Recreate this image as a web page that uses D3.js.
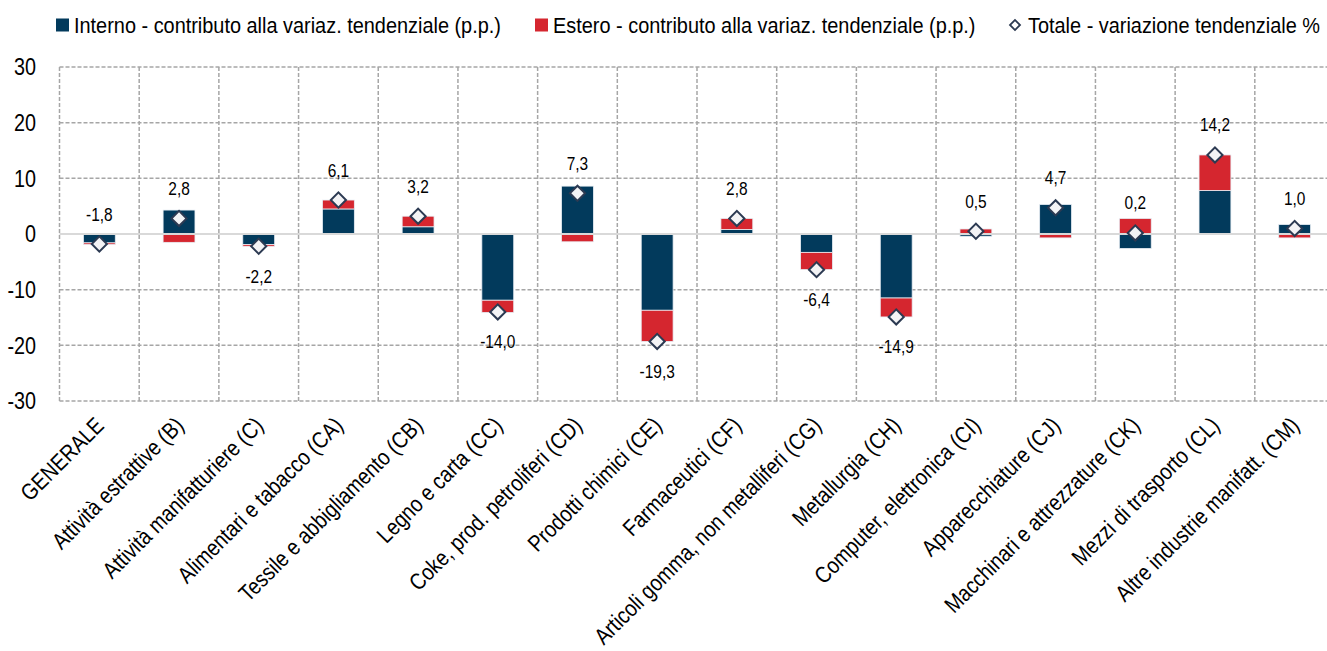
<!DOCTYPE html>
<html>
<head>
<meta charset="utf-8">
<script src="https://cdn.jsdelivr.net/npm/d3@7"></script>
<style>
  body { margin: 0; background: #fff; }
  text { font-family: "Liberation Sans Narrow", "Arial Narrow", "Liberation Sans", Arial, sans-serif; }
</style>
</head>
<body>
<script>
var categories = ["GENERALE", "Attività estrattive (B)", "Attività manifatturiere (C)",
    "Alimentari e tabacco (CA)", "Tessile e abbigliamento (CB)", "Legno e carta (CC)",
    "Coke, prod. petroliferi (CD)", "Prodotti chimici (CE)", "Farmaceutici (CF)",
    "Articoli gomma, non metalliferi (CG)", "Metallurgia (CH)", "Computer, elettronica (CI)",
    "Apparecchiature (CJ)", "Macchinari e attrezzature (CK)", "Mezzi di trasporto (CL)",
    "Altre industrie manifatt. (CM)"];
var interno = [-1.6, 4.3, -1.9, 4.5, 1.3, -11.9, 8.6, -13.7, 0.8, -3.3, -11.5, -0.4, 5.3, -2.6, 7.8, 1.7];
var estero  = [-0.3, -1.5, -0.3, 1.6, 1.9, -2.2, -1.4, -5.6, 2.0, -3.1, -3.4, 0.9, -0.7, 2.8, 6.4, -0.7];
var totale  = [-1.8, 2.8, -2.2, 6.1, 3.2, -14.0, 7.3, -19.3, 2.8, -6.4, -14.9, 0.5, 4.7, 0.2, 14.2, 1.0];
var labelAbove = [true, true, false, true, true, false, true, false, true, false, false, true, true, true, true, true];
var yTicks = [-30, -20, -10, 0, 10, 20, 30];
var legendLabels = ["Interno - contributo alla variaz. tendenziale (p.p.)",
    "Estero - contributo alla variaz. tendenziale (p.p.)",
    "Totale - variazione tendenziale %"];

var width = 1327, height = 651;
var navy = "#023a5c", red = "#d5262f";
var narrow = 0.86; // no narrow font installed, squeeze the regular one

var svg = d3.select("body").append("svg")
    .attr("width", width)
    .attr("height", height);

var x = d3.scaleBand()
    .domain(categories)
    .range([59.5, 1334.5]);

var y = d3.scaleLinear()
    .domain([-30, 30])
    .range([401, 67]);

// grid
var grid = svg.append("g");
grid.selectAll(".hgrid")
    .data(yTicks.filter(function(d) { return d !== 0; }))
    .enter().append("line")
    .attr("x1", x.range()[0]).attr("x2", x.range()[1])
    .attr("y1", function(d) { return y(d); })
    .attr("y2", function(d) { return y(d); })
    .attr("stroke", "#a6a6a6")
    .attr("stroke-width", 1.5)
    .attr("stroke-dasharray", "4,2");

grid.selectAll(".vgrid")
    .data(categories)
    .enter().append("line")
    .attr("x1", function(d) { return x(d); })
    .attr("x2", function(d) { return x(d); })
    .attr("y1", y(30)).attr("y2", y(-30))
    .attr("stroke", "#a6a6a6")
    .attr("stroke-width", 1.5)
    .attr("stroke-dasharray", "4,2");

// y tick labels
svg.append("g").selectAll("text")
    .data(yTicks)
    .enter().append("text")
    .attr("transform", function(d) { return "translate(36," + y(d) + ") scale(" + narrow + ",1)"; })
    .attr("dy", "0.36em")
    .attr("text-anchor", "end")
    .attr("font-size", 23)
    .attr("fill", "#000")
    .text(function(d) { return d; });

// stacked bars (diverging)
var barW = x.bandwidth() * 0.4;
var segs = [];
categories.forEach(function(c, i) {
    var pos = 0, neg = 0;
    [[interno[i], navy], [estero[i], red]].forEach(function(s) {
        var v = s[0], y0, y1;
        if (v >= 0) { y0 = pos; y1 = pos + v; pos = y1; }
        else { y0 = neg; y1 = neg + v; neg = y1; }
        segs.push({cat: c, y0: y0, y1: y1, color: s[1]});
    });
});

svg.append("g").selectAll("rect")
    .data(segs)
    .enter().append("rect")
    .attr("x", function(d) { return x(d.cat) + (x.bandwidth() - barW) / 2; })
    .attr("width", barW)
    .attr("y", function(d) { return y(Math.max(d.y0, d.y1)); })
    .attr("height", function(d) { return Math.abs(y(d.y0) - y(d.y1)); })
    .attr("fill", function(d) { return d.color; })
    .attr("stroke", "#e8eef4")
    .attr("stroke-width", 0.8);

// zero line
svg.append("line")
    .attr("x1", x.range()[0]).attr("x2", x.range()[1])
    .attr("y1", y(0)).attr("y2", y(0))
    .attr("stroke", "#d9d9d9")
    .attr("stroke-width", 2);

// diamonds
var diamond = d3.symbol().type(d3.symbolSquare).size(115);
svg.append("g").selectAll("path")
    .data(totale)
    .enter().append("path")
    .attr("d", diamond)
    .attr("transform", function(d, i) {
        return "translate(" + (x(categories[i]) + x.bandwidth() / 2) + "," + y(d) + ") rotate(45)";
    })
    .attr("fill", "#f3f3f5")
    .attr("stroke", "#2c3a52")
    .attr("stroke-width", 2);

// value labels
svg.append("g").selectAll("text")
    .data(totale)
    .enter().append("text")
    .attr("transform", function(d, i) {
        var ty = y(d) + (labelAbove[i] ? -30 : 30);
        return "translate(" + (x(categories[i]) + x.bandwidth() / 2) + "," + ty + ") scale(" + narrow + ",1)";
    })
    .attr("dy", "0.36em")
    .attr("text-anchor", "middle")
    .attr("font-size", 18)
    .attr("fill", "#000")
    .text(function(d) { return d3.format(".1f")(d).replace(".", ",").replace("−", "-"); });

// x labels
svg.append("g").selectAll("text")
    .data(categories)
    .enter().append("text")
    .attr("transform", function(d) {
        return "translate(" + (x(d) + x.bandwidth() / 2 + 6) + ",427) rotate(-45) scale(0.85,1)";
    })
    .attr("text-anchor", "end")
    .attr("font-size", 23)
    .attr("fill", "#000")
    .text(function(d) { return d; });

// legend
var legend = svg.append("g");
var legendX = [56, 535, 1008];
legendLabels.forEach(function(l, i) {
    var g = legend.append("g").attr("transform", "translate(" + legendX[i] + ",25)");
    if (i < 2) {
        g.append("rect")
            .attr("x", 0).attr("y", -6.5)
            .attr("width", 13).attr("height", 13)
            .attr("fill", i === 0 ? navy : red);
    } else {
        g.append("path")
            .attr("d", d3.symbol().type(d3.symbolSquare).size(50))
            .attr("transform", "translate(7,0) rotate(45)")
            .attr("fill", "#fff")
            .attr("stroke", "#2c3a52")
            .attr("stroke-width", 1.8);
    }
    g.append("text")
        .attr("transform", "translate(" + (i < 2 ? 18 : 20) + ",0) scale(0.905,1)")
        .attr("dy", "0.36em")
        .attr("font-size", 22)
        .attr("fill", "#000")
        .text(l);
});
</script>
</body>
</html>
